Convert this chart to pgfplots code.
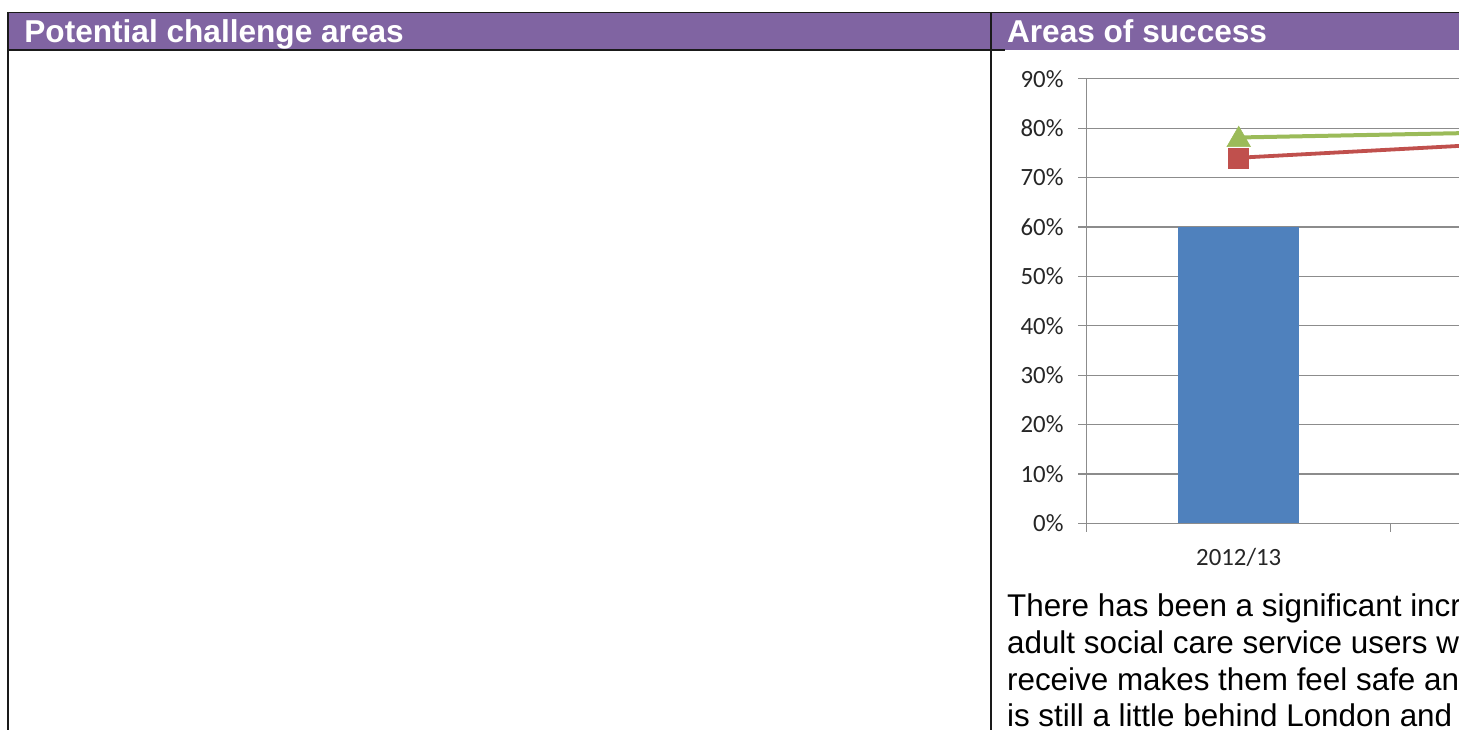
\documentclass[border=0pt]{standalone}
\usepackage{pgfplots}
\pgfplotsset{compat=1.18}
\usepackage{fontspec}
\setmainfont{Liberation Sans}
\newfontfamily\calibri{Carlito}
\definecolor{hdrpurple}{HTML}{8064A2}
\definecolor{barblue}{HTML}{4F81BD}
\definecolor{lred}{HTML}{C0504D}
\definecolor{lgreen}{HTML}{9BBB59}
\definecolor{gridgray}{HTML}{8C8C8C}
\definecolor{rulecol}{HTML}{1A1A1A}
\definecolor{ticktext}{HTML}{262626}
\begin{document}
\begin{tikzpicture}
\useasboundingbox (0pt,0pt) rectangle (729.5pt,364.5pt);
\clip (0pt,0pt) rectangle (729.5pt,364.5pt);
% table frame and header (coordinates in image pixels, y downward from top)
\begin{scope}[shift={(0pt,364.5pt)}, x=0.5pt, y=-0.5pt]
\fill[hdrpurple] (8,12.5) rectangle (1460,50);
\draw[rulecol, line width=0.9pt] (8,12.5) -- (1460,12.5);
\draw[rulecol, line width=0.9pt] (8,50) -- (1005,50);
\draw[rulecol, line width=0.9pt] (8,12) -- (8,730);
\draw[rulecol, line width=0.9pt] (990.7,12) -- (990.7,730);
\node[anchor=base west, inner sep=0pt, text=white, font=\bfseries\fontsize{15.8}{18}\selectfont] at (24,42.3) {Potential challenge areas};
\node[anchor=base west, inner sep=0pt, text=white, font=\bfseries\fontsize{15.8}{18}\selectfont] at (1006.7,42.3) {Areas of success};
\begin{scope}[every node/.style={anchor=base west, inner sep=0pt, text=black, font=\fontsize{15.7}{18}\selectfont}]
\node at (1006.7,616) {There has been a significant increase in the proportion of};
\node at (1006.7,653) {adult social care service users who say that the services they};
\node at (1006.7,690) {receive makes them feel safe and secure, although the borough};
\node at (1006.7,726.7) {is still a little behind London and England averages.};
\end{scope}
\end{scope}
\begin{axis}[
  at={(543.35pt,102.85pt)}, anchor=south west,
  scale only axis, width=304pt, height=222.3pt,
  xmin=-0.5, xmax=1.5, ymin=0, ymax=90,
  axis x line*=bottom, axis y line*=left,
  axis line style={draw=gridgray, line width=0.6pt, -},
  ytick={0,10,...,90},
  yticklabel={\pgfmathprintnumber{\tick}\%},
  ymajorgrids, grid style={gridgray, line width=0.6pt},
  xtick={-0.5,0.5,1.5},
  x tick label as interval,
  xticklabels={2012/13,{}},
  tick align=outside,
  major tick length=4.2pt,
  tick style={draw=gridgray, line width=0.6pt},
  /pgf/number format/assume math mode=true,
  tick label style={font=\calibri\fontsize{12.4}{14}\selectfont, text=ticktext},
  yticklabel style={anchor=east, inner sep=0pt, xshift=-7.2pt},
  xticklabel style={anchor=north, inner sep=0pt, yshift=-8pt},
]
\addplot[ybar, bar width=60.5pt, bar shift=0pt, fill=barblue, draw=none] coordinates {(0,60)};
\addplot[color=lred, line width=1.9pt, mark=square*, mark size=5pt, mark options={solid, fill=lred, line width=0.3pt, yshift=-0.5pt}] coordinates {(0,74.0) (1,77.3)};
\addplot[color=lgreen, line width=2pt, mark=triangle*, mark size=6.8pt, mark options={solid, fill=lgreen, line width=0.3pt, yshift=-1.2pt}] coordinates {(0,78.1) (1,79.3)};
\end{axis}
\end{tikzpicture}
\end{document}
